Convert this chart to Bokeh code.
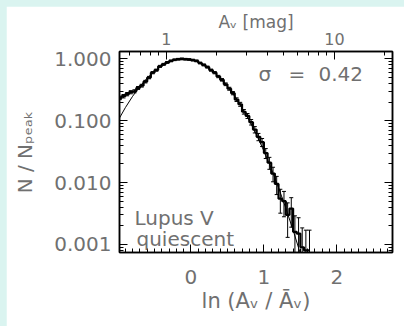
import math
from bokeh.plotting import figure
from bokeh.models import (Range1d, LogScale, LogAxis, FixedTicker, SingleIntervalTicker,
                          PrintfTickFormatter, Label, Whisker, ColumnDataSource, TeeHead, Spacer)
from bokeh.layouts import row, column
from bokeh.embed import file_html
from bokeh.resources import INLINE

# ---------------- data ----------------
bin_x = [-0.975, -0.925, -0.875, -0.825, -0.775, -0.725, -0.675, -0.625, -0.575, -0.525,
         -0.475, -0.425, -0.375, -0.325, -0.275, -0.225, -0.175, -0.125, -0.075, -0.025,
         0.025, 0.075, 0.125, 0.175, 0.225, 0.275, 0.325, 0.375, 0.425, 0.475,
         0.525, 0.575, 0.625, 0.675, 0.725, 0.775, 0.825, 0.875, 0.925, 0.975,
         1.025, 1.075, 1.125, 1.175, 1.225, 1.275, 1.325, 1.375, 1.425, 1.475,
         1.525, 1.575, 1.625]
bin_n = [0.235, 0.25, 0.27, 0.29, 0.30, 0.34, 0.37, 0.43, 0.50, 0.60,
         0.66, 0.76, 0.82, 0.88, 0.93, 0.97, 0.99, 1.00, 0.99, 0.98,
         0.96, 0.93, 0.86, 0.80, 0.74, 0.66, 0.60, 0.52, 0.46, 0.39,
         0.33, 0.28, 0.22, 0.185, 0.14, 0.12, 0.095, 0.072, 0.055, 0.045,
         0.030, 0.021, 0.014, 0.0095, 0.0055, 0.0050, 0.0030, 0.0038, 0.0016, 0.0015,
         0.0009, 0.0008, 0.0008]
bin_err = [0.0153, 0.0158, 0.0164, 0.017, 0.0173, 0.0184, 0.0192, 0.0207, 0.0224, 0.0245,
           0.0257, 0.0276, 0.0286, 0.0297, 0.0305, 0.0311, 0.0315, 0.0316, 0.0315, 0.0313,
           0.031, 0.0305, 0.0293, 0.0283, 0.0272, 0.0257, 0.0245, 0.0228, 0.0214, 0.0197,
           0.0182, 0.0167, 0.0148, 0.0136, 0.0118, 0.011, 0.0097, 0.0085, 0.0074, 0.0067,
           0.0055, 0.0046, 0.0037, 0.0031, 0.0023, 0.0022, 0.0017, 0.0019, 0.0013, 0.0012,
           0.00095, 0.0009, 0.0009]

fit_x = [-0.98, -0.9, -0.8, -0.7, -0.6, -0.5, -0.4, -0.3, -0.2, -0.1, 0.0,
         0.1, 0.2, 0.3, 0.4, 0.5, 0.6, 0.7, 0.8, 0.9, 1.0,
         1.1, 1.2, 1.3, 1.4, 1.5, 1.55]
fit_n = [0.111, 0.163, 0.249, 0.360, 0.492, 0.635, 0.775, 0.893, 0.972, 1.0, 0.972,
         0.893, 0.775, 0.635, 0.492, 0.360, 0.249, 0.163, 0.1007, 0.0588, 0.0324,
         0.0169, 0.00831, 0.00386, 0.00170, 0.000706, 0.000445]

sigma_label = "0.42"
region_line1 = "Lupus V"
region_line2 = "quiescent"
x_title = "ln (Aᵥ / Āᵥ)"
y_title = "N / Nₚₑₐₖ"
top_title = "Aᵥ [mag]"

y_major = [0.001, 0.01, 0.1, 1.0]
y_minor = [m * 10.0 ** e for e in range(-4, 1) for m in range(2, 10)]
av_major = [1, 10]
av_minor = [0.6, 0.7, 0.8, 0.9, 2, 3, 4, 5, 6, 7, 8, 9, 20]
AV_MEAN = 1.4  # mean extinction (mag) relating top and bottom axes

# ---------------- layout constants ----------------
OFF = 6                       # cyan margin
FL, FR, FT, FB = 119, 392, 51, 252   # frame, page coords
RIGHT_PAD = 12                # right border Bokeh keeps beside the frame
W, H = 404 - OFF, 326 - OFF
PX_PER_UNIT = 72.94           # horizontal scale of the reference
X0 = -0.98
X1 = X0 + (FR - FL) / PX_PER_UNIT
Y0, Y1 = 7.4e-4, 1.32
BG = "#daf4f0"
TXT = "#707070"
FONT = "DejaVu Sans"
LAB_SHIFT = 6                 # baseline correction for in-frame labels


def dx(px):
    return X0 + (px - FL) / (FR - FL) * (X1 - X0)


def dy(py):
    l0, l1 = math.log10(Y0), math.log10(Y1)
    return 10 ** (l1 - (py - LAB_SHIFT - FT) / (FB - FT) * (l1 - l0))


p = figure(width=W, height=H,
           x_range=Range1d(X0, X1), y_range=Range1d(Y0, Y1),
           y_axis_type="log", output_backend="svg", toolbar_location=None,
           min_border_left=FL - OFF, min_border_right=RIGHT_PAD,
           min_border_top=FT - OFF, min_border_bottom=326 - FB)
p.background_fill_color = "white"
p.border_fill_color = "white"
p.outline_line_color = "black"
p.outline_line_width = 1.5
p.grid.visible = False


def style(ax, size="20px", standoff=8):
    ax.axis_line_color = "black"
    ax.axis_line_width = 1.5
    ax.major_tick_in = 8
    ax.major_tick_out = 0
    ax.minor_tick_in = 4
    ax.minor_tick_out = 0
    ax.major_tick_line_color = "black"
    ax.minor_tick_line_color = "black"
    ax.major_tick_line_width = 1
    ax.minor_tick_line_width = 1
    ax.major_label_text_font = FONT
    ax.major_label_text_font_size = size
    ax.major_label_text_color = TXT
    ax.major_label_standoff = standoff
    ax.axis_label_text_font = FONT
    ax.axis_label_text_color = TXT
    ax.axis_label_text_font_style = "normal"


xa = p.xaxis[0]
xa.ticker = SingleIntervalTicker(interval=1, num_minor_ticks=10)
style(xa, "20px", 17)
xa.axis_label = x_title
xa.axis_label_text_font_size = "21px"
xa.axis_label_standoff = 2

ya = p.yaxis[0]
ya.ticker = FixedTicker(ticks=y_major, minor_ticks=y_minor)
ya.formatter = PrintfTickFormatter(format="%.3f")
style(ya, "20px", 8)
ya.axis_label = y_title
ya.axis_label_text_font_size = "20px"
ya.axis_label_standoff = 14

p.extra_x_ranges = {"av": Range1d(AV_MEAN * math.exp(X0), AV_MEAN * math.exp(X1))}
p.extra_x_scales = {"av": LogScale()}
top = LogAxis(x_range_name="av", ticker=FixedTicker(ticks=av_major, minor_ticks=av_minor),
              formatter=PrintfTickFormatter(format="%d"))
style(top, "16px", 7)
top.axis_label = top_title
top.axis_label_text_font_size = "17px"
top.axis_label_standoff = -2
p.add_layout(top, "above")

# right-hand ticks (labels empty)
right = LogAxis(ticker=FixedTicker(ticks=y_major, minor_ticks=y_minor))
style(right, "1px", 0)
right.major_label_overrides = {t: "" for t in y_major}
right.axis_label_standoff = 0
p.add_layout(right, "right")

# fit curve and histogram
p.line(fit_x, fit_n, line_color="black", line_width=1)
p.step(bin_x, bin_n, mode="center", line_color="black", line_width=2.2)

lo = [max(n - e, Y0) for n, e in zip(bin_n, bin_err)]
up = [n + e for n, e in zip(bin_n, bin_err)]
src = ColumnDataSource(dict(x=bin_x, lo=lo, up=up))
p.add_layout(Whisker(base="x", lower="lo", upper="up", source=src, dimension="height",
                     line_color="black", line_width=1,
                     upper_head=TeeHead(size=4, line_color="black", line_width=1),
                     lower_head=TeeHead(size=4, line_color="black", line_width=1)))


def lab(px, py, text, size):
    p.add_layout(Label(x=dx(px), y=dy(py), text=text, text_font=FONT,
                       text_font_size=size, text_color=TXT, text_align="left",
                       text_baseline="alphabetic"))


lab(258, 79, "σ", "20px")
lab(288, 79, "=", "20px")
lab(318, 79, sigma_label, "20px")
lab(134, 223, region_line1, "20px")
lab(136, 244, region_line2, "20px")

left_strip = Spacer(width=OFF, height=326, styles={"background-color": BG})
top_strip = Spacer(width=W, height=OFF, styles={"background-color": BG})
layout = row(left_strip, column(top_strip, p),
             styles={"background-color": BG, "overflow": "hidden"})

open("out.html", "w").write(file_html(layout, INLINE))
